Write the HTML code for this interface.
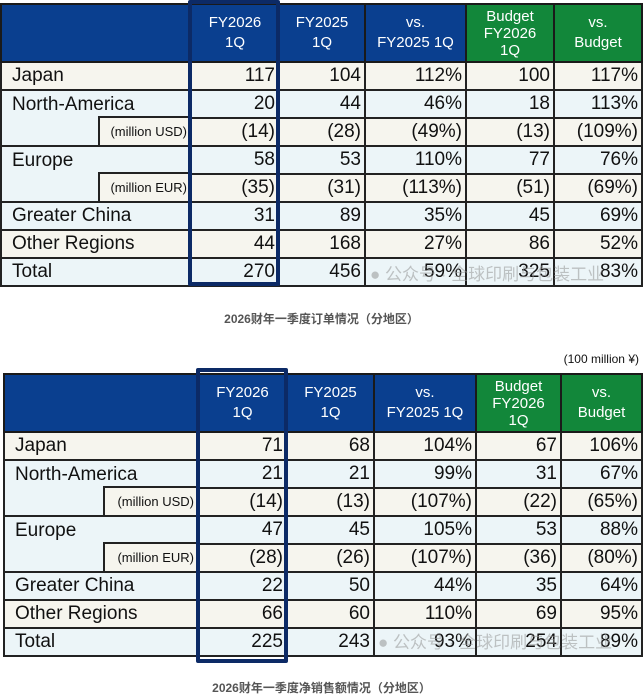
<!DOCTYPE html>
<html><head><meta charset="utf-8"><style>
body{margin:0;width:643px;height:695px;background:#fff;position:relative;overflow:hidden;font-family:"Liberation Sans",Arial,sans-serif}
table{position:absolute;border-collapse:collapse;table-layout:fixed}
td{border:2px solid #222;padding:0 3px 0 0;font-size:19px;text-align:right;color:#111;white-space:nowrap;overflow:hidden}
td.l{text-align:left;padding-left:10px;font-size:19px}
tr.h td{background:#0a3f8f;color:#fff;font-size:15px;text-align:center;line-height:20px;padding:0;border-color:#1a1a1a}
tr.h td.g{background:#12873a}
.c{background:#f6f5ee}.b{background:#ecf5f8}
td.sub{padding:0;position:relative;overflow:visible}
td.sub div{position:absolute;right:0;top:-2px;bottom:0;border-left:2px solid #222;border-top:2px solid #222;font-size:13px;text-align:right;padding-right:3px;display:flex;align-items:center;justify-content:flex-end;background:#f6f5ee}
td.nb{border-bottom:none}
td.nt{border-top:none}
.box{position:absolute;border:4px solid #0c2a66;border-radius:2px;box-sizing:border-box}
.cap{position:absolute;width:643px;text-align:center;font-size:12px;font-weight:bold;color:#555;font-family:"Liberation Sans","Noto Sans CJK SC",sans-serif}
.wm{position:absolute;font-size:17px;color:rgba(150,150,150,.55);font-family:"Liberation Sans","Noto Sans CJK SC",sans-serif}
</style></head><body>

<table style="left:0;top:3px;width:641px">
<colgroup><col style="width:190px"><col style="width:88px"><col style="width:86px"><col style="width:101px"><col style="width:88px"><col style="width:88px"></colgroup>
<tr class="h" style="height:58px"><td></td><td>FY2026<br>1Q</td><td>FY2025<br>1Q</td><td>vs.<br>FY2025 1Q</td><td class="g" style="line-height:17px">Budget<br>FY2026<br>1Q</td><td class="g">vs.<br>Budget</td></tr>
<tr class="c" style="height:28px"><td class="l">Japan</td><td>117</td><td>104</td><td>112%</td><td>100</td><td>117%</td></tr>
<tr class="b" style="height:28px"><td class="l nb">North-America</td><td>20</td><td>44</td><td>46%</td><td>18</td><td>113%</td></tr>
<tr class="c" style="height:28px"><td class="sub nt b"><div style="left:96px">(million USD)</div></td><td>(14)</td><td>(28)</td><td>(49%)</td><td>(13)</td><td>(109%)</td></tr>
<tr class="b" style="height:28px"><td class="l nb">Europe</td><td>58</td><td>53</td><td>110%</td><td>77</td><td>76%</td></tr>
<tr class="c" style="height:28px"><td class="sub nt b"><div style="left:96px">(million EUR)</div></td><td>(35)</td><td>(31)</td><td>(113%)</td><td>(51)</td><td>(69%)</td></tr>
<tr class="b" style="height:28px"><td class="l">Greater China</td><td>31</td><td>89</td><td>35%</td><td>45</td><td>69%</td></tr>
<tr class="c" style="height:28px"><td class="l">Other Regions</td><td>44</td><td>168</td><td>27%</td><td>86</td><td>52%</td></tr>
<tr class="b" style="height:28px"><td class="l">Total</td><td>270</td><td>456</td><td>59%</td><td>325</td><td>83%</td></tr>
</table>
<div class="box" style="left:188px;top:0;width:92px;height:286px"></div>
<div class="wm" style="left:370px;top:260px">● 公众号 · 全球印刷与包装工业</div>
<div class="cap" style="top:310px">2026财年一季度订单情况（分地区）</div>

<div style="position:absolute;right:4px;top:352px;font-size:12px;color:#111">(100 million ¥)</div>
<table style="left:3px;top:373px;width:638px">
<colgroup><col style="width:194px"><col style="width:89px"><col style="width:87px"><col style="width:102px"><col style="width:85px"><col style="width:81px"></colgroup>
<tr class="h" style="height:58px"><td></td><td>FY2026<br>1Q</td><td>FY2025<br>1Q</td><td>vs.<br>FY2025 1Q</td><td class="g" style="line-height:17px">Budget<br>FY2026<br>1Q</td><td class="g">vs.<br>Budget</td></tr>
<tr class="c" style="height:28px"><td class="l">Japan</td><td>71</td><td>68</td><td>104%</td><td>67</td><td>106%</td></tr>
<tr class="b" style="height:28px"><td class="l nb">North-America</td><td>21</td><td>21</td><td>99%</td><td>31</td><td>67%</td></tr>
<tr class="c" style="height:28px"><td class="sub nt b"><div style="left:98px">(million USD)</div></td><td>(14)</td><td>(13)</td><td>(107%)</td><td>(22)</td><td>(65%)</td></tr>
<tr class="b" style="height:28px"><td class="l nb">Europe</td><td>47</td><td>45</td><td>105%</td><td>53</td><td>88%</td></tr>
<tr class="c" style="height:28px"><td class="sub nt b"><div style="left:98px">(million EUR)</div></td><td>(28)</td><td>(26)</td><td>(107%)</td><td>(36)</td><td>(80%)</td></tr>
<tr class="b" style="height:28px"><td class="l">Greater China</td><td>22</td><td>50</td><td>44%</td><td>35</td><td>64%</td></tr>
<tr class="c" style="height:28px"><td class="l">Other Regions</td><td>66</td><td>60</td><td>110%</td><td>69</td><td>95%</td></tr>
<tr class="b" style="height:28px"><td class="l">Total</td><td>225</td><td>243</td><td>93%</td><td>254</td><td>89%</td></tr>
</table>
<div class="box" style="left:196px;top:368px;width:92px;height:295px"></div>
<div class="wm" style="left:378px;top:628px">● 公众号 · 全球印刷与包装工业</div>
<div class="cap" style="top:679px">2026财年一季度净销售额情况（分地区）</div>
</body></html>
